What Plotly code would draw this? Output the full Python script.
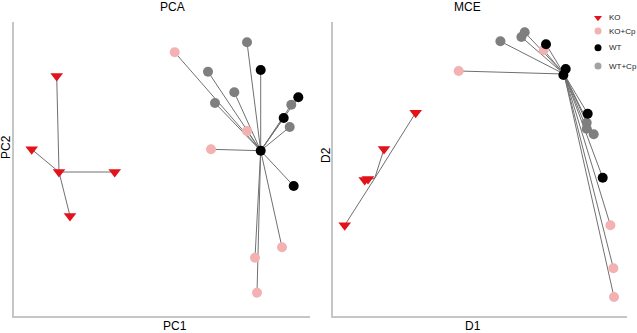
import plotly.graph_objects as go

# ---- PCA panel data (PC1, PC2) ----
pca_ko_x = [42.7, 17.7, 100.7, 56, 45]
pca_ko_y = [240, 166.7, 144, 100, 144]
pca_ko_center = (45, 144)

pca_wt_x = [246.7, 246.7, 284.3, 269.7, 279.7]
pca_wt_y = [165.3, 246, 218.7, 198, 130]
pca_wtcp_x = [233, 194, 220.3, 201, 277.3, 275.7]
pca_wtcp_y = [273.7, 244.3, 223.7, 213, 211.3, 189]
pca_kocp_x = [160.7, 233, 197, 268, 241, 243]
pca_kocp_y = [263.7, 185, 166.7, 68.7, 58.3, 23.3]
pca_wt_center = (246.7, 165.3)

# ---- MCE panel data (D1, D2) ----
mce_ko_x = [82.7, 51, 35, 31.7, 11.7]
mce_ko_y = [203.3, 167, 137, 136, 90.7]
mce_ko_center = (41.7, 137.7)

mce_wt_x = [213, 232.7, 230.4, 254.7, 269.7]
mce_wt_y = [271.7, 247, 241, 202.3, 138.3]
mce_wtcp_x = [167.4, 188.4, 191.7, 253.7, 253.7, 260.7]
mce_wtcp_y = [274.7, 279, 283.7, 193.3, 187.3, 181.7]
mce_kocp_x = [125.7, 210.7, 277.4, 280.4, 281]
mce_kocp_y = [245, 266, 90.7, 47.7, 19]
mce_wt_center = (231, 242)

legend_names = ["KO", "KO+Cp", "WT", "WT+Cp"]

C_KO = "#e3131b"
C_KOCP = "#f4b1b1"
C_WT = "#000000"
C_WTCP = "#7f7f7f"
C_LINE = "#707070"
C_AXIS = "#c6c6c6"

W, H = 637, 333


def spokes(center, xs, ys):
    lx, ly = [], []
    for x, y in zip(xs, ys):
        lx += [center[0], x, None]
        ly += [center[1], y, None]
    return lx, ly


fig = go.Figure()


def add_panel(xa, ya, ko, kocp, wt, wtcp, ko_c, wt_c):
    lx, ly = spokes(ko_c, *ko)
    for xs, ys in (kocp, wt, wtcp):
        a, b = spokes(wt_c, xs, ys)
        lx += a
        ly += b
    fig.add_trace(go.Scatter(x=lx, y=ly, mode="lines", line=dict(color=C_LINE, width=1),
                             xaxis=xa, yaxis=ya, showlegend=False, hoverinfo="skip"))
    fig.add_trace(go.Scatter(x=kocp[0], y=kocp[1], mode="markers", name="KO+Cp",
                             marker=dict(color=C_KOCP, size=10), xaxis=xa, yaxis=ya,
                             showlegend=False))
    fig.add_trace(go.Scatter(x=wtcp[0], y=wtcp[1], mode="markers", name="WT+Cp",
                             marker=dict(color=C_WTCP, size=10), xaxis=xa, yaxis=ya,
                             showlegend=False))
    fig.add_trace(go.Scatter(x=wt[0], y=wt[1], mode="markers", name="WT",
                             marker=dict(color=C_WT, size=10), xaxis=xa, yaxis=ya,
                             showlegend=False))
    fig.add_trace(go.Scatter(x=ko[0], y=ko[1], mode="markers", name="KO",
                             marker=dict(color=C_KO, size=11, symbol="triangle-down"),
                             xaxis=xa, yaxis=ya, showlegend=False))


add_panel("x", "y", (pca_ko_x, pca_ko_y), (pca_kocp_x, pca_kocp_y), (pca_wt_x, pca_wt_y),
          (pca_wtcp_x, pca_wtcp_y), pca_ko_center, pca_wt_center)
add_panel("x2", "y2", (mce_ko_x, mce_ko_y), (mce_kocp_x, mce_kocp_y), (mce_wt_x, mce_wt_y),
          (mce_wtcp_x, mce_wtcp_y), mce_ko_center, mce_wt_center)

# manual legend on an overlay axis
leg_colors = [C_KO, C_KOCP, C_WT, "#a3a3a3"]
leg_symbols = ["triangle-down", "circle", "circle", "circle"]
leg_y = [17.7, 31, 47.7, 66]  # row centres, px from top
for name, col, sym, yy in zip(legend_names, leg_colors, leg_symbols, leg_y):
    fig.add_trace(go.Scatter(x=[0], y=[yy], mode="markers", name=name,
                             marker=dict(color=col, size=7, symbol=sym),
                             xaxis="x3", yaxis="y3", showlegend=False, hoverinfo="skip"))
    fig.add_annotation(text=name, x=8.5, y=yy, xref="x3", yref="y3", xanchor="left",
                       yanchor="middle", showarrow=False,
                       font=dict(family="Liberation Sans, Arial", size=8, color="#222"))

ax_common = dict(showline=True, linecolor=C_AXIS, linewidth=2, showgrid=False,
                 zeroline=False, showticklabels=False, ticks="")
ax_hidden = dict(visible=False, showgrid=False, zeroline=False)
ydom = [(H - 316) / H, (H - 22) / H]
fig.update_layout(
    width=W, height=H, margin=dict(l=0, r=0, t=0, b=0),
    paper_bgcolor="white", plot_bgcolor="rgba(0,0,0,0)",
    xaxis=dict(domain=[14 / W, 310 / W], range=[0, 296], **ax_common),
    yaxis=dict(domain=ydom, range=[0, 294], **ax_common),
    xaxis2=dict(domain=[333 / W, 627 / W], range=[0, 294], anchor="y2", **ax_common),
    yaxis2=dict(domain=ydom, range=[0, 294], anchor="x2", **ax_common),
    xaxis3=dict(domain=[590 / W, 1], range=[-8, 39], anchor="y3", **ax_hidden),
    yaxis3=dict(domain=[1 - 80 / H, 1], range=[80, 0], anchor="x3", **ax_hidden),
    showlegend=False,
    font=dict(family="Liberation Sans, Arial", color="#000"),
)

ann = dict(xref="paper", yref="paper", showarrow=False, font=dict(size=12, color="#000",
           family="Liberation Sans, Arial"))
fig.add_annotation(text="PCA", x=158 / W, y=1 - 7 / H, yanchor="middle", **ann)
fig.add_annotation(text="MCE", x=483 / W, y=1 - 7 / H, yanchor="middle", **ann)
fig.add_annotation(text="PC1", x=161 / W, y=1 - 326 / H, yanchor="middle", **ann)
fig.add_annotation(text="D1", x=483 / W, y=1 - 326 / H, yanchor="middle", **ann)
fig.add_annotation(text="PC2", x=6 / W, y=1 - 147 / H, textangle=-90, xanchor="center", **ann)
fig.add_annotation(text="D2", x=326 / W, y=1 - 155 / H, textangle=-90, xanchor="center", **ann)

fig.write_html("out.html", config={"displayModeBar": False},
               post_script="document.body.style.margin='0';document.body.style.overflow='hidden';")
